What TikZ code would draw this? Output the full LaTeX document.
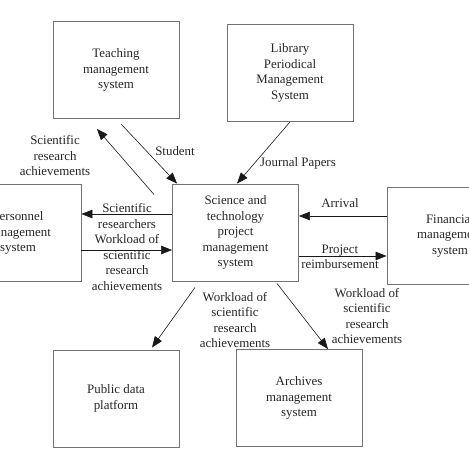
\documentclass[tikz,border=0pt]{standalone}
\usepackage{fontspec}
\setmainfont{Liberation Serif}
\usetikzlibrary{arrows.meta}

\begin{document}
\begin{tikzpicture}[x=1pt, y=-1pt,
    sys/.style={draw=black!55, line width=0.9pt, minimum width=126pt, minimum height=97pt, align=center, inner sep=2pt, text=black!85, font=\fontsize{12.9}{15.5}\selectfont},
    lab/.style={align=center, inner sep=0pt, text=black!85, font=\fontsize{12.9}{15.5}\selectfont},
    flow/.style={-{Triangle[length=11pt, width=8.5pt]}, draw=black!90, line width=0.6pt}]
    \useasboundingbox (0,0) rectangle (469,469);
    \clip (0,0) rectangle (469,469);

    \node[sys] (teach) at (116, 70) {Teaching\\management\\system};
    \node[sys] (lib) at (290, 73) {Library\\Periodical\\Management\\System};
    \node[sys] (spm) at (235.5, 232.5) {Science and\\technology\\project\\management\\system};
    \node[sys] (pers) at (18, 233) {Personnel\\management\\system};
    \node[sys] (fin) at (450, 235.5) {Financial\\management\\system};
    \node[sys] (pub) at (116, 398.5) {Public data\\platform};
    \node[sys] (arch) at (299, 398) {Archives\\management\\system};

    % labels of the flows
    \node[lab] (lstudent) at (175, 151) {Student};
    \node[lab] (lachieve) at (55, 156) {Scientific\\research\\achievements};
    \node[lab] (ljournal) at (298, 163) {Journal Papers};
    \node[lab] (larrival) at (340, 203) {Arrival};
    \node[lab] (lreimb) at (340, 257) {Project\\reimbursement};
    \node[lab] (lresearchers) at (127, 216) {Scientific\\researchers};
    \node[lab] (lworkpers) at (127, 262.5) {Workload of\\scientific\\research\\achievements};
    \node[lab] (lworkpub) at (235, 320) {Workload of\\scientific\\research\\achievements};
    \node[lab] (lworkarch) at (367, 316) {Workload of\\scientific\\research\\achievements};

    \draw[flow] ([shift={(5,5)}]teach.south) to ([shift={(5,0)}]spm.north west);
    \draw[flow] ([shift={(-18,11)}]spm.north west) to ([shift={(-19,10)}]teach.south);
    \draw[flow] (lib.south) to ([shift={(1.5,0)}]spm.north);

    \draw[flow] ([shift={(0,-19.5)}]fin.west) to ([shift={(0,-16.5)}]spm.east);
    \draw[flow] ([shift={(0,23.5)}]spm.east) to ([shift={(0,20.5)}]fin.west);

    \draw[flow] ([shift={(0,-18.5)}]spm.west) to ([shift={(0,-19)}]pers.east);
    \draw[flow] ([shift={(0,17)}]pers.east) to ([shift={(0,17.5)}]spm.west);

    \draw[flow] ([shift={(-40.5,6)}]spm.south) to ([shift={(36,-2)}]pub.north);
    \draw[flow] ([shift={(41.5,2)}]spm.south) to ([shift={(29,0)}]arch.north);
\end{tikzpicture}
\end{document}
